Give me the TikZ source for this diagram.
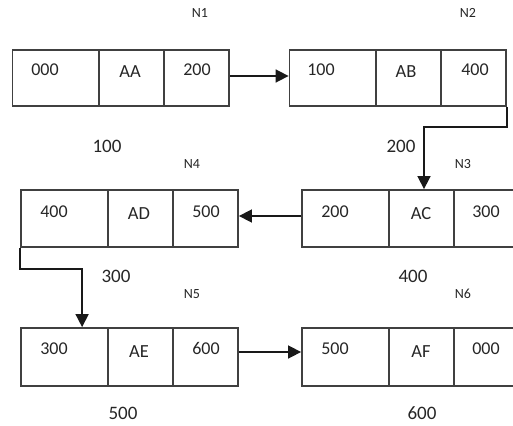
\documentclass[tikz,border=0pt]{standalone}
\usepackage{fontspec}
\setmainfont{Carlito}
\usetikzlibrary{arrows.meta}
\begin{document}
\begin{tikzpicture}[x=1pt,y=-1pt,
  cell/.style={draw=black!75,line width=1.8pt,rectangle,inner sep=0pt,minimum height=56pt},
  cw1/.style={cell,minimum width=87pt},
  cw2/.style={cell,minimum width=65pt},
  num/.style={anchor=base,inner sep=0pt,text=black!85,font=\fontsize{18}{20}\selectfont},
  let/.style={anchor=base,inner sep=0pt,text=black!85,font=\fontsize{18.5}{20}\selectfont},
  tag/.style={inner sep=0pt,text=black!85,font=\fontsize{14}{16}\selectfont},
  addr/.style={inner sep=0pt,text=black!85,font=\fontsize{19}{21}\selectfont},
  link/.style={draw=black!90,line width=1.6pt,-{Triangle[length=13pt,width=13pt]}}]
\useasboundingbox (0,0) rectangle (513,425);
\clip (0,0) rectangle (513,425);
% Row 1
\node[cw1] (n1a) at (56,78) {};
\node[cw2] (n1b) at (131.5,78) {};
\node[cw2] (n1c) at (196.5,78) {};
\node[cw1] (n2a) at (333,78) {};
\node[cw2] (n2b) at (408.5,78) {};
\node[cw2] (n2c) at (473.5,78) {};
% Row 2
\node[cw1,minimum height=57pt] (n4a) at (64.5,218.5) {};
\node[cw2,minimum height=57pt] (n4b) at (140.5,218.5) {};
\node[cw2,minimum height=57pt] (n4c) at (205.5,218.5) {};
\node[cw1,minimum height=57pt] (n3a) at (345.5,218.5) {};
\node[cw2,minimum height=57pt] (n3b) at (421.5,218.5) {};
\node[cell,minimum width=80pt,minimum height=57pt] (n3c) at (494,218.5) {};
% Row 3
\node[cw1,minimum height=58pt] (n5a) at (64.5,357) {};
\node[cw2,minimum height=58pt] (n5b) at (140.5,357) {};
\node[cw2,minimum height=58pt] (n5c) at (205.5,357) {};
\node[cw1,minimum height=58pt] (n6a) at (345.5,357) {};
\node[cw2,minimum height=58pt] (n6b) at (421.5,357) {};
\node[cell,minimum width=80pt,minimum height=58pt] (n6c) at (494,357) {};
% cell texts
\node[num] (t1a) at (45,76) {000};
\node[let] (t1b) at (130,78) {AA};
\node[num] (t1c) at (197,76) {200};
\node[num] (t2a) at (321,76) {100};
\node[let] (t2b) at (406,78) {AB};
\node[num] (t2c) at (475,76) {400};
\node[num] (t4a) at (54,217) {400};
\node[let] (t4b) at (139,219) {AD};
\node[num] (t4c) at (206,217) {500};
\node[num] (t3a) at (335,217) {200};
\node[let] (t3b) at (421,219) {AC};
\node[num] (t3c) at (486,217) {300};
\node[num] (t5a) at (54,354) {300};
\node[let] (t5b) at (139,357) {AE};
\node[num] (t5c) at (206,354) {600};
\node[num] (t6a) at (335,354) {500};
\node[let] (t6b) at (421,357) {AF};
\node[num] (t6c) at (486,354) {000};
% tags
\node[tag] (g1) at (200,13) {N1};
\node[tag] (g2) at (468,13) {N2};
\node[tag] (g4) at (192,164) {N4};
\node[tag] (g3) at (463,164) {N3};
\node[tag] (g5) at (192,294) {N5};
\node[tag] (g6) at (463,294) {N6};
% addresses
\node[addr] (d1) at (107,146) {100};
\node[addr] (d2) at (401,146) {200};
\node[addr] (d4) at (116,276) {300};
\node[addr] (d3) at (413,276) {400};
\node[addr] (d5) at (123,413) {500};
\node[addr] (d6) at (422,413) {600};
% links
\draw[link] ([yshift=2pt]n1c.east) -- ([yshift=2pt]n2a.west);
\draw[link] (n2c.south east) -- ++(0,20) -| ([xshift=2.5pt]n3b.north);
\draw[link] ([yshift=2.5pt]n3a.west) -- ([yshift=2.5pt]n4c.east);
\draw[link] (n4a.south west) -- ++(0,21) -| ([xshift=62pt]n5a.north west);
\draw[link] ([yshift=5pt]n5c.east) -- ([yshift=5pt]n6a.west);
\end{tikzpicture}
\end{document}
